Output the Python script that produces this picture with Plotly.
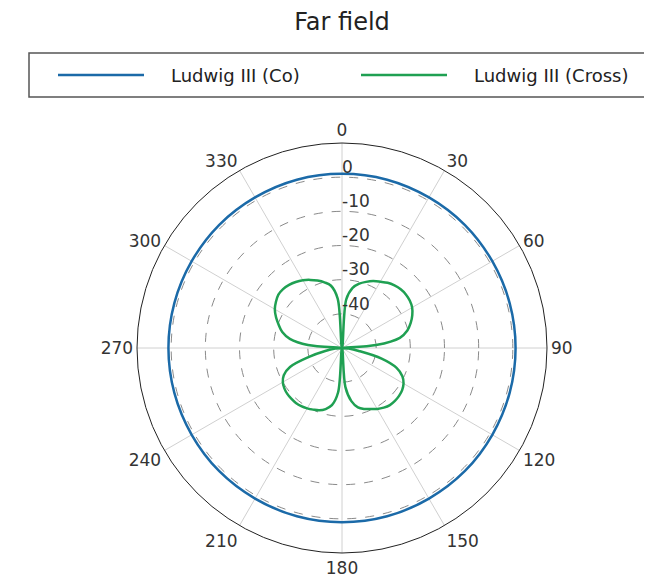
import plotly.graph_objects as go

# ---- data ----
co_theta = list(range(0, 361, 15))
co_db = [1.0, 1.0, 0.9, 0.9, 0.8, 0.8, 0.8, 0.8, 0.8, 0.9, 0.9, 1.0, 1.0,
         1.0, 0.9, 0.9, 0.8, 0.8, 0.8, 0.8, 0.8, 0.9, 0.9, 1.0, 1.0]

cross_theta = list(range(0, 361, 5))
cross_db = [
    -50.0, -35.7, -32.1, -30.5, -29.4, -28.4, -27.6, -26.7, -26.1, -25.7,   # 0-45
    -25.6, -25.8, -26.3, -27.3, -28.6, -30.2, -32.8, -40.0, -50.0,          # 50-90
    -48.0, -45.0, -38.0, -33.0, -30.5, -29.2, -28.5, -28.2, -28.1, -28.2,   # 95-140
    -28.7, -29.4, -30.3, -31.0, -32.0, -34.2, -38.5, -50.0,                 # 145-180
    -37.0, -33.0, -31.5, -30.6, -30.1, -29.6, -29.2, -29.0, -29.0, -29.1,   # 185-230
    -29.4, -30.0, -31.2, -33.8, -40.0, -45.0, -48.0, -50.0,                 # 235-270
    -40.0, -34.5, -31.9, -30.3, -28.7, -27.3, -26.4, -25.7, -25.6, -25.9,   # 275-320
    -26.4, -27.1, -28.0, -29.0, -30.1, -31.5, -35.5, -50.0,                 # 325-360
]

angular_ticks = list(range(0, 360, 30))
radial_ticks = [-40, -30, -20, -10, 0]
radial_labels = ["-40", "-30", "-20", "-10", "0"]
radial_range = [-50, 10]

# page has an 8px body margin; figure sized to fit the window
OFF = 8
W, H = 652 - OFF, 577 - OFF
FONT = "DejaVu Sans, Arial, sans-serif"
BLUE = "#1b6aa8"
GREEN = "#1fa052"


def px(x):
    return (x - OFF) / W


def py(y):
    return 1 - (y - OFF) / H


fig = go.Figure()
fig.add_trace(go.Scatterpolar(r=co_db, theta=co_theta, mode="lines",
                              name="Ludwig III (Co)", showlegend=False,
                              line=dict(color=BLUE, width=2.5, shape="spline")))
fig.add_trace(go.Scatterpolar(r=cross_db, theta=cross_theta, mode="lines",
                              name="Ludwig III (Cross)", showlegend=False,
                              line=dict(color=GREEN, width=2.5, shape="spline")))
# radial tick labels, placed just right of the 0-degree axis and above each ring
fig.add_trace(go.Scatterpolar(r=radial_ticks, theta=[0] * len(radial_ticks),
                              mode="text", text=radial_labels, textposition="top right",
                              textfont=dict(family=FONT, size=17, color="#333333"),
                              showlegend=False, hoverinfo="skip"))

cx, cy, R = 342, 348, 205
fig.update_layout(
    width=W, height=H,
    margin=dict(l=0, r=0, t=0, b=0, pad=0),
    paper_bgcolor="white",
    font=dict(family=FONT, size=17, color="#333333"),
    title=dict(text="Far field", x=px(342), y=py(22), xanchor="center",
               yanchor="middle", font=dict(family=FONT, size=24, color="#222222")),
    polar=dict(
        domain=dict(x=[px(cx - R), px(cx + R)], y=[py(cy + R), py(cy - R)]),
        bgcolor="white",
        angularaxis=dict(rotation=90, direction="clockwise",
                         tickvals=angular_ticks, ticktext=[str(t) for t in angular_ticks],
                         showline=True, linecolor="#222222", linewidth=1,
                         showgrid=True, gridcolor="#d0d0d0", gridwidth=1,
                         ticks="", tickfont=dict(size=17, color="#333333")),
        radialaxis=dict(range=radial_range, angle=90,
                        tickvals=radial_ticks, showticklabels=False,
                        showline=False, ticks="", showgrid=True,
                        gridcolor="#8a8a8a", gridwidth=1, griddash="dash"),
    ),
)

# legend box drawn manually to match the reference
lx0, lx1, ly0, ly1 = 29, 670, 53, 97
fig.add_shape(type="rect", xref="paper", yref="paper",
              x0=px(lx0), x1=px(lx1), y0=py(ly1), y1=py(ly0),
              line=dict(color="#555555", width=1.5), fillcolor="white", layer="below")
ly = py(75)
items = [(58, 144, 169, BLUE, "Ludwig III (Co)"), (361, 447, 472, GREEN, "Ludwig III (Cross)")]
for x0, x1, tx, col, txt in items:
    fig.add_shape(type="line", xref="paper", yref="paper", x0=px(x0), x1=px(x1),
                  y0=ly, y1=ly, line=dict(color=col, width=2.5))
    fig.add_annotation(text=txt, xref="paper", yref="paper", x=px(tx), y=ly,
                       xanchor="left", yanchor="middle", showarrow=False,
                       font=dict(family=FONT, size=18, color="#222222"))

fig.write_html("out.html")
